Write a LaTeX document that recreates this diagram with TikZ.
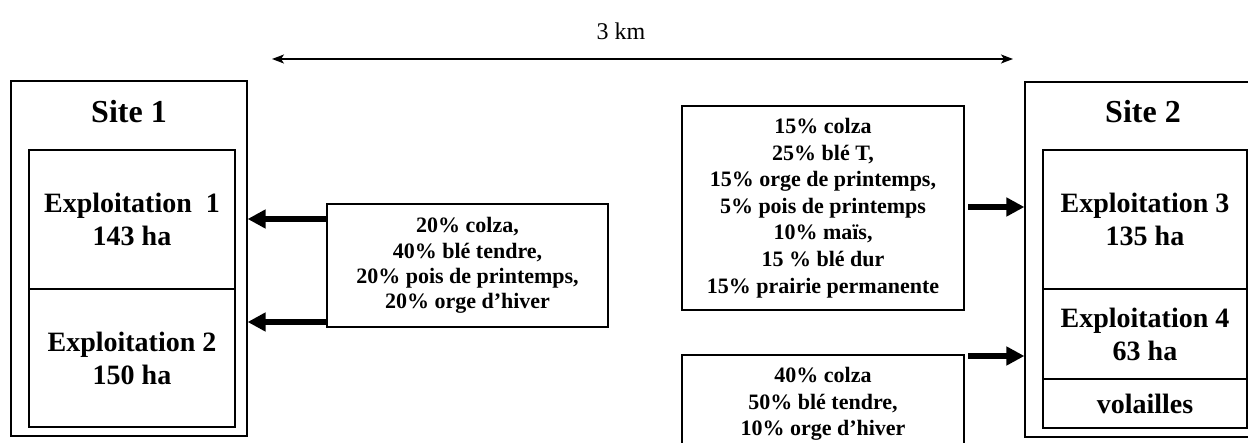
\documentclass[tikz,border=0pt]{standalone}
\usepackage{fontspec}
\setmainfont{Liberation Serif}
\usetikzlibrary{arrows.meta}
\tikzset{
  box/.style={draw, line width=0.6pt, inner sep=0pt, align=center},
  sitetitle/.style={font=\fontsize{16}{19}\selectfont\bfseries, inner sep=0pt},
  expl/.style={box, font=\fontsize{14}{16.5}\selectfont\bfseries},
  crop/.style={box, font=\fontsize{11}{12.6}\selectfont\bfseries},
  cropr/.style={box, font=\fontsize{11}{13.3}\selectfont\bfseries},
  flow/.style={line width=3pt, -{Triangle[length=9pt,width=9pt]}},
  dist/.style={line width=0.8pt, {Stealth[length=6pt,width=4.5pt,inset=1.5pt]}-{Stealth[length=6pt,width=4.5pt,inset=1.5pt]}},
}
\begin{document}
\begin{tikzpicture}[x=0.5pt,y=-0.5pt]
\useasboundingbox (0,0) rectangle (1248,443);
\clip (0,0) rectangle (1248,443);
% distance
\node[font=\fontsize{12}{14}\selectfont, inner sep=0pt] (km) at (621,31) {3 km};
\coordinate (dl) at (272,59);
\coordinate (dr) at (1013,59);
\draw[dist] (dl) -- (dr);
% Site 1
\node[box, minimum width=118pt, minimum height=177.5pt] (s1) at (129,258.5) {};
\node[sitetitle] (t1) at (129,112) {Site 1};
\node[expl, minimum width=103pt, minimum height=69.5pt] (e1) at (132,219.5) {Exploitation~~1\\143 ha};
\node[expl, minimum width=103pt, minimum height=69pt] (e2) at (132,358) {Exploitation 2\\150 ha};
% middle left
\node[crop, minimum width=140.5pt, minimum height=61.5pt] (ml) at (467.5,265.5)
  {20\% colza,\\40\% blé tendre,\\20\% pois de printemps,\\20\% orge d’hiver};
% middle right
\node[cropr, minimum width=141pt, minimum height=102pt] (r1) at (823,208)
  {15\% colza\\25\% blé T,\\15\% orge de printemps,\\5\% pois de printemps\\10\% maïs,\\15 \% blé dur\\15\% prairie permanente};
\node[cropr, minimum width=141pt, minimum height=49pt] (r2) at (823,404)
  {40\% colza\\50\% blé tendre,\\10\% orge d’hiver};
% Site 2
\node[box, minimum width=117.5pt, minimum height=177.5pt] (s2) at (1142.5,259.5) {};
\node[sitetitle] (t2) at (1143,112) {Site 2};
\node[expl, minimum width=102pt, minimum height=69.5pt] (e3) at (1145,219.5) {Exploitation 3\\135 ha};
\node[expl, minimum width=102pt, minimum height=45pt] (e4) at (1145,334) {Exploitation 4\\63 ha};
\node[expl, minimum width=102pt, minimum height=24.5pt] (vol) at (1145,403.5) {volailles};
% arrows
\coordinate (a1) at (0,219);
\coordinate (a2) at (0,322);
\draw[flow] (ml.west |- a1) -- (s1.east |- a1);
\draw[flow] (ml.west |- a2) -- (s1.east |- a2);
\coordinate (b1) at (968,207);
\coordinate (b2) at (968,356);
\draw[flow] (b1) -- (s2.west |- b1);
\draw[flow] (b2) -- (s2.west |- b2);
\end{tikzpicture}
\end{document}
